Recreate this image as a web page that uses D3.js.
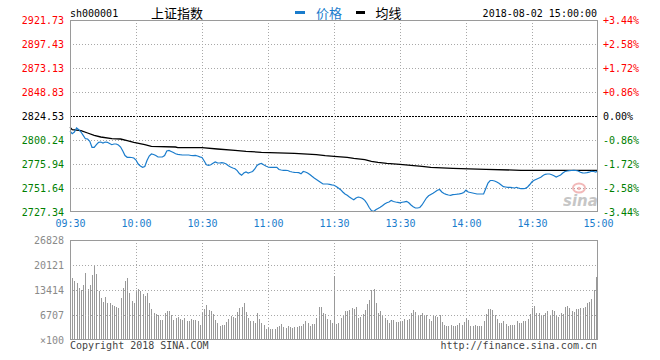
<!DOCTYPE html>
<html><head><meta charset="utf-8">
<script src="https://cdn.jsdelivr.net/npm/d3@7"></script>
<style>
html,body{margin:0;padding:0;background:#fff;}
svg{display:block;}
</style></head>
<body>
<svg id="chart" width="660" height="360"></svg>
<script>
// ---------- data ----------
const symbol = "sh000001";
const title = "上证指数";
const legendPrice = "价格";
const legendAvg = "均线";
const stamp = "2018-08-02 15:00:00";
const prevClose = 2824.53;

const priceTicks = [2921.73, 2897.43, 2873.13, 2848.83, 2824.53, 2800.24, 2775.94, 2751.64, 2727.34];
const pctTicks = ["+3.44%", "+2.58%", "+1.72%", "+0.86%", "0.00%", "-0.86%", "-1.72%", "-2.58%", "-3.44%"];
const timeIdx = [0, 30, 60, 90, 120, 150, 180, 210, 240];
const timeLabels = ["09:30", "10:00", "10:30", "11:00", "11:30", "13:30", "14:00", "14:30", "15:00"];
const volTicks = [26828, 20121, 13414, 6707, 0];

// price per minute (index 0 = 09:30, 120 = 11:30/13:00, 240 = 15:00)
const prices = [
2809.34,2806.61,2808.33,2812.38,2810.66,2808.33,2804.99,2801.55,2801.24,2798.91,
2792.84,2792.84,2795.47,2797.90,2798.20,2797.19,2798.20,2797.90,2796.69,2795.47,
2796.18,2796.18,2795.17,2793.14,2789.09,2784.54,2782.71,2782.71,2782.51,2782.00,
2779.98,2775.93,2773.90,2772.59,2773.40,2779.47,2784.03,2786.05,2785.55,2784.54,
2783.02,2783.02,2783.02,2784.54,2789.09,2789.60,2788.59,2787.57,2786.36,2785.75,
2785.35,2785.04,2785.04,2785.04,2785.04,2784.54,2784.33,2784.74,2784.03,2783.22,
2782.51,2778.97,2775.22,2774.61,2775.12,2776.74,2777.95,2777.14,2776.94,2777.25,
2776.94,2775.93,2774.11,2772.89,2771.88,2771.07,2769.25,2766.31,2764.49,2766.82,
2767.83,2766.82,2767.53,2768.34,2770.87,2774.41,2775.93,2776.44,2775.12,2773.90,
2772.89,2772.59,2772.59,2772.59,2772.59,2770.36,2769.85,2769.55,2769.55,2769.35,
2768.34,2767.83,2767.53,2767.32,2767.12,2766.01,2768.34,2767.83,2766.82,2765.30,
2763.48,2761.75,2760.24,2758.72,2757.20,2755.68,2755.68,2755.68,2755.38,2754.87,
2754.46,2753.15,2751.63,2749.91,2747.58,2745.55,2744.24,2742.52,2741.00,2739.78,
2741.50,2742.52,2742.01,2741.00,2739.18,2735.94,2731.89,2728.85,2727.84,2729.66,
2730.87,2732.09,2733.71,2735.43,2736.75,2737.45,2738.97,2737.96,2737.45,2737.05,
2736.64,2737.25,2737.66,2738.16,2736.64,2734.42,2732.70,2731.38,2731.38,2731.89,
2734.42,2737.96,2741.50,2743.73,2745.05,2746.36,2747.78,2749.30,2750.11,2747.58,
2746.06,2745.25,2744.54,2744.24,2744.85,2745.05,2745.35,2745.76,2746.26,2747.07,
2749.60,2747.58,2747.07,2746.57,2746.06,2745.55,2745.55,2745.55,2745.55,2751.12,
2756.69,2759.22,2759.22,2758.72,2757.70,2756.39,2754.67,2752.95,2752.64,2752.34,
2752.34,2751.93,2751.63,2752.34,2751.43,2750.92,2750.92,2751.33,2752.64,2755.17,
2757.91,2759.43,2760.54,2761.55,2762.46,2764.29,2765.50,2765.81,2765.81,2765.10,
2764.08,2762.77,2763.78,2764.79,2766.82,2768.34,2768.84,2769.15,2769.35,2769.55,
2769.35,2768.84,2767.53,2767.02,2766.82,2767.12,2767.63,2768.54,2768.34,2767.83,
2769.04
];

// average line, read at these minute indices
const avgIdx = [0,1,5,8,11,14,19,23,26,29,34,37,48,49,60,67,75,80,87,102,112,116,120,126,129,134,137,140,144,150,155,160,164,174,189,205,240];
const avgVal = [2813.09,2810.66,2809.65,2807.32,2804.99,2803.27,2801.55,2801.24,2799.52,2797.90,2795.47,2793.85,2793.14,2792.43,2792.43,2791.12,2789.80,2788.79,2787.78,2786.76,2785.35,2784.33,2783.73,2782.71,2781.70,2780.28,2778.66,2777.65,2776.64,2775.63,2774.61,2773.60,2772.59,2771.58,2770.56,2769.55,2769.55];

// volume per minute (x100)
const volumes = [
26828,16633,15918,15292,13951,13325,14755,17975,13682,14755,
17438,20031,17706,13056,11268,10284,11536,9926,9926,9390,
9122,8853,8585,11268,13951,15918,16633,12609,10552,9926,
12877,13772,13056,12341,11894,12609,9926,8406,7244,6975,
6618,5455,5455,7244,7869,7691,6797,5455,5902,6170,
5634,5455,5902,5187,5187,5634,5276,5455,5008,4024,
7244,8406,9480,8138,7869,6975,5455,4561,3845,4114,
4114,4829,5634,6349,6170,5902,7512,8585,8853,9926,
7512,5902,5187,5187,4561,7244,5724,4561,3935,3041,
3219,3041,2951,3041,3398,3666,4292,3488,3219,3756,
3577,3219,3488,3488,3666,3845,4292,5097,4561,3756,
4292,4292,5902,8853,8853,7244,6975,5634,5455,4561,
17081,4292,4561,5902,6618,7780,7869,8138,8585,8406,
8853,5902,6170,6975,8048,9658,10731,13325,13772,9926,
7244,7869,6528,5902,5455,4561,5455,5455,4829,4829,
4829,5008,5634,5455,5724,7154,8048,7512,6618,6618,
7244,6618,6618,5724,5187,6618,6349,6170,6618,4829,
3935,3845,3845,4114,3845,3845,3935,4471,4114,4829,
5902,5455,3845,3666,3935,3845,3845,3845,5008,6975,
8406,8406,8138,6618,5724,4561,4561,5008,4292,3845,
3935,4114,4114,5008,4561,4561,5187,5187,5634,6975,
8585,9032,7244,7244,6618,6797,7244,7869,6618,8048,
7869,6618,6170,7244,6975,8853,9122,8585,7869,7512,
8317,8317,8585,8585,8853,9926,10195,11000,13325,16902,
17200
];

// ---------- drawing ----------
const svg = d3.select("#chart");
const mono = "'DejaVu Sans Mono','Liberation Mono',monospace";
const cjk = "'Noto Sans CJK SC','Noto Sans',sans-serif";
const BLUE = "#1a7ccc";
const GRID = "#a8a8a8";
const FRAME = "#9a9a9a";

const L = 70, R = 598, PT = 20, PB = 212, VT = 240, VB = 340;
const x = d3.scaleLinear().domain([0, 240]).range([L, R]);
const yP = d3.scaleLinear().domain([priceTicks[8], priceTicks[0]]).range([PB, PT]);
const yV = d3.scaleLinear().domain([0, volTicks[0]]).range([VB, VT]);

svg.append("rect").attr("width", 660).attr("height", 360).attr("fill", "#fff");

// ---- header ----
svg.append("text").attr("x", 70).attr("y", 16.5).attr("font-family", mono).attr("font-size", 10)
  .attr("fill", "#000").text(symbol);
svg.append("text").attr("x", 151).attr("y", 17.5).attr("font-family", cjk).attr("font-size", 13)
  .attr("fill", "#000").text(title);
svg.append("line").attr("x1", 295).attr("x2", 305).attr("y1", 12.5).attr("y2", 12.5)
  .attr("stroke", BLUE).attr("stroke-width", 3);
svg.append("text").attr("x", 316).attr("y", 17.5).attr("font-family", cjk).attr("font-size", 13)
  .attr("fill", BLUE).text(legendPrice);
svg.append("line").attr("x1", 356).attr("x2", 365).attr("y1", 12.5).attr("y2", 12.5)
  .attr("stroke", "#000").attr("stroke-width", 3);
svg.append("text").attr("x", 375.5).attr("y", 17.5).attr("font-family", cjk).attr("font-size", 13)
  .attr("fill", "#000").text(legendAvg);
svg.append("text").attr("x", 597).attr("y", 16.5).attr("text-anchor", "end").attr("font-family", mono)
  .attr("font-size", 10).attr("fill", "#000").text(stamp);

// ---- price grid ----
const g = svg.append("g").attr("shape-rendering", "crispEdges");
priceTicks.slice(1, 8).forEach(v => {
  const yy = Math.round(yP(v)) + 0.5;
  const zero = v === prevClose;
  g.append("line").attr("x1", L).attr("x2", R).attr("y1", yy).attr("y2", yy)
    .attr("stroke", zero ? "#000" : GRID).attr("stroke-dasharray", zero ? "2,1" : "1,2");
});
timeIdx.slice(1, 8).forEach(t => {
  const xx = Math.round(x(t)) + 0.5;
  g.append("line").attr("x1", xx).attr("x2", xx).attr("y1", PT).attr("y2", PB)
    .attr("stroke", GRID).attr("stroke-dasharray", "1,2");
  g.append("line").attr("x1", xx).attr("x2", xx).attr("y1", VT).attr("y2", VB)
    .attr("stroke", GRID).attr("stroke-dasharray", "1,2");
});

// ---- watermark ----
const wm = svg.append("g").attr("opacity", 0.55);
wm.append("ellipse").attr("cx", 579).attr("cy", 188).attr("rx", 6).attr("ry", 4.5)
  .attr("fill", "none").attr("stroke", "#e88080").attr("stroke-width", 2);
wm.append("circle").attr("cx", 579).attr("cy", 188.5).attr("r", 1.8).attr("fill", "#e88080");
wm.append("text").attr("x", 563).attr("y", 206).attr("font-family", "'DejaVu Sans',sans-serif")
  .attr("font-style", "italic").attr("font-weight", "bold").attr("font-size", 15)
  .attr("fill", "#999").text("sina");

// ---- lines ----
const avgData = avgIdx.map((t, i) => [t, avgVal[i]]);
svg.append("path").datum(avgData)
  .attr("d", d3.line().x(d => x(d[0])).y(d => yP(d[1])))
  .attr("fill", "none").attr("stroke", "#000").attr("stroke-width", 1.3);
svg.append("path").datum(prices)
  .attr("d", d3.line().x((d, i) => x(i)).y(d => yP(d)))
  .attr("fill", "none").attr("stroke", BLUE).attr("stroke-width", 1.2);

// ---- volume bars ----
svg.append("g").attr("shape-rendering", "crispEdges").selectAll("rect").data(volumes).join("rect")
  .attr("x", (d, i) => Math.min(Math.round(x(i)), R - 1))
  .attr("width", 1)
  .attr("y", d => yV(d))
  .attr("height", d => VB - yV(d))
  .attr("fill", "#999");

// volume horizontal grid (over bars)
volTicks.slice(1, 4).forEach(v => {
  const yy = Math.round(yV(v)) + 0.5;
  g.clone ? null : null;
  svg.append("line").attr("shape-rendering", "crispEdges").attr("x1", L).attr("x2", R)
    .attr("y1", yy).attr("y2", yy).attr("stroke", GRID).attr("stroke-dasharray", "1,2");
});

// ---- frames ----
svg.append("rect").attr("shape-rendering", "crispEdges").attr("x", L + 0.5).attr("y", PT + 0.5)
  .attr("width", R - L - 1).attr("height", PB - PT - 1).attr("fill", "none").attr("stroke", FRAME);
svg.append("rect").attr("shape-rendering", "crispEdges").attr("x", L + 0.5).attr("y", VT + 0.5)
  .attr("width", R - L - 1).attr("height", VB - VT - 1).attr("fill", "none").attr("stroke", FRAME);

// ---- axes ----
function colorFor(v) { return v > prevClose ? "#ff0000" : (v < prevClose ? "#008000" : "#000"); }

const axL = svg.append("g").attr("transform", `translate(${L},0)`)
  .call(d3.axisLeft(yP).tickValues(priceTicks).tickSize(0).tickPadding(6).tickFormat(d => d.toFixed(2)));
axL.select(".domain").remove();
axL.selectAll("text").attr("font-family", mono).attr("font-size", 10).attr("fill", d => colorFor(d));

const axR = svg.append("g").attr("transform", `translate(${R},0)`)
  .call(d3.axisRight(yP).tickValues(priceTicks).tickSize(0).tickPadding(5).tickFormat((d, i) => pctTicks[i]));
axR.select(".domain").remove();
axR.selectAll("text").attr("font-family", mono).attr("font-size", 10).attr("fill", d => colorFor(d));

const axB = svg.append("g").attr("transform", `translate(0,${PB})`)
  .call(d3.axisBottom(x).tickValues(timeIdx).tickSize(0).tickPadding(8).tickFormat((d, i) => timeLabels[i]));
axB.select(".domain").remove();
axB.selectAll("text").attr("font-family", mono).attr("font-size", 10).attr("fill", BLUE);

const axV = svg.append("g").attr("transform", `translate(${L},0)`)
  .call(d3.axisLeft(yV).tickValues(volTicks).tickSize(0).tickPadding(6).tickFormat(d => d === 0 ? "×100" : String(d)));
axV.select(".domain").remove();
axV.selectAll("text").attr("font-family", mono).attr("font-size", 10).attr("fill", "#8a8a8a");

// ---- footer ----
svg.append("text").attr("x", 70).attr("y", 349).attr("font-family", mono).attr("font-size", 10)
  .attr("fill", "#444").text("Copyright 2018 SINA.COM");
svg.append("text").attr("x", 597).attr("y", 349).attr("text-anchor", "end").attr("font-family", mono)
  .attr("font-size", 10).attr("fill", "#444").text("http://finance.sina.com.cn");
</script>
</body></html>
